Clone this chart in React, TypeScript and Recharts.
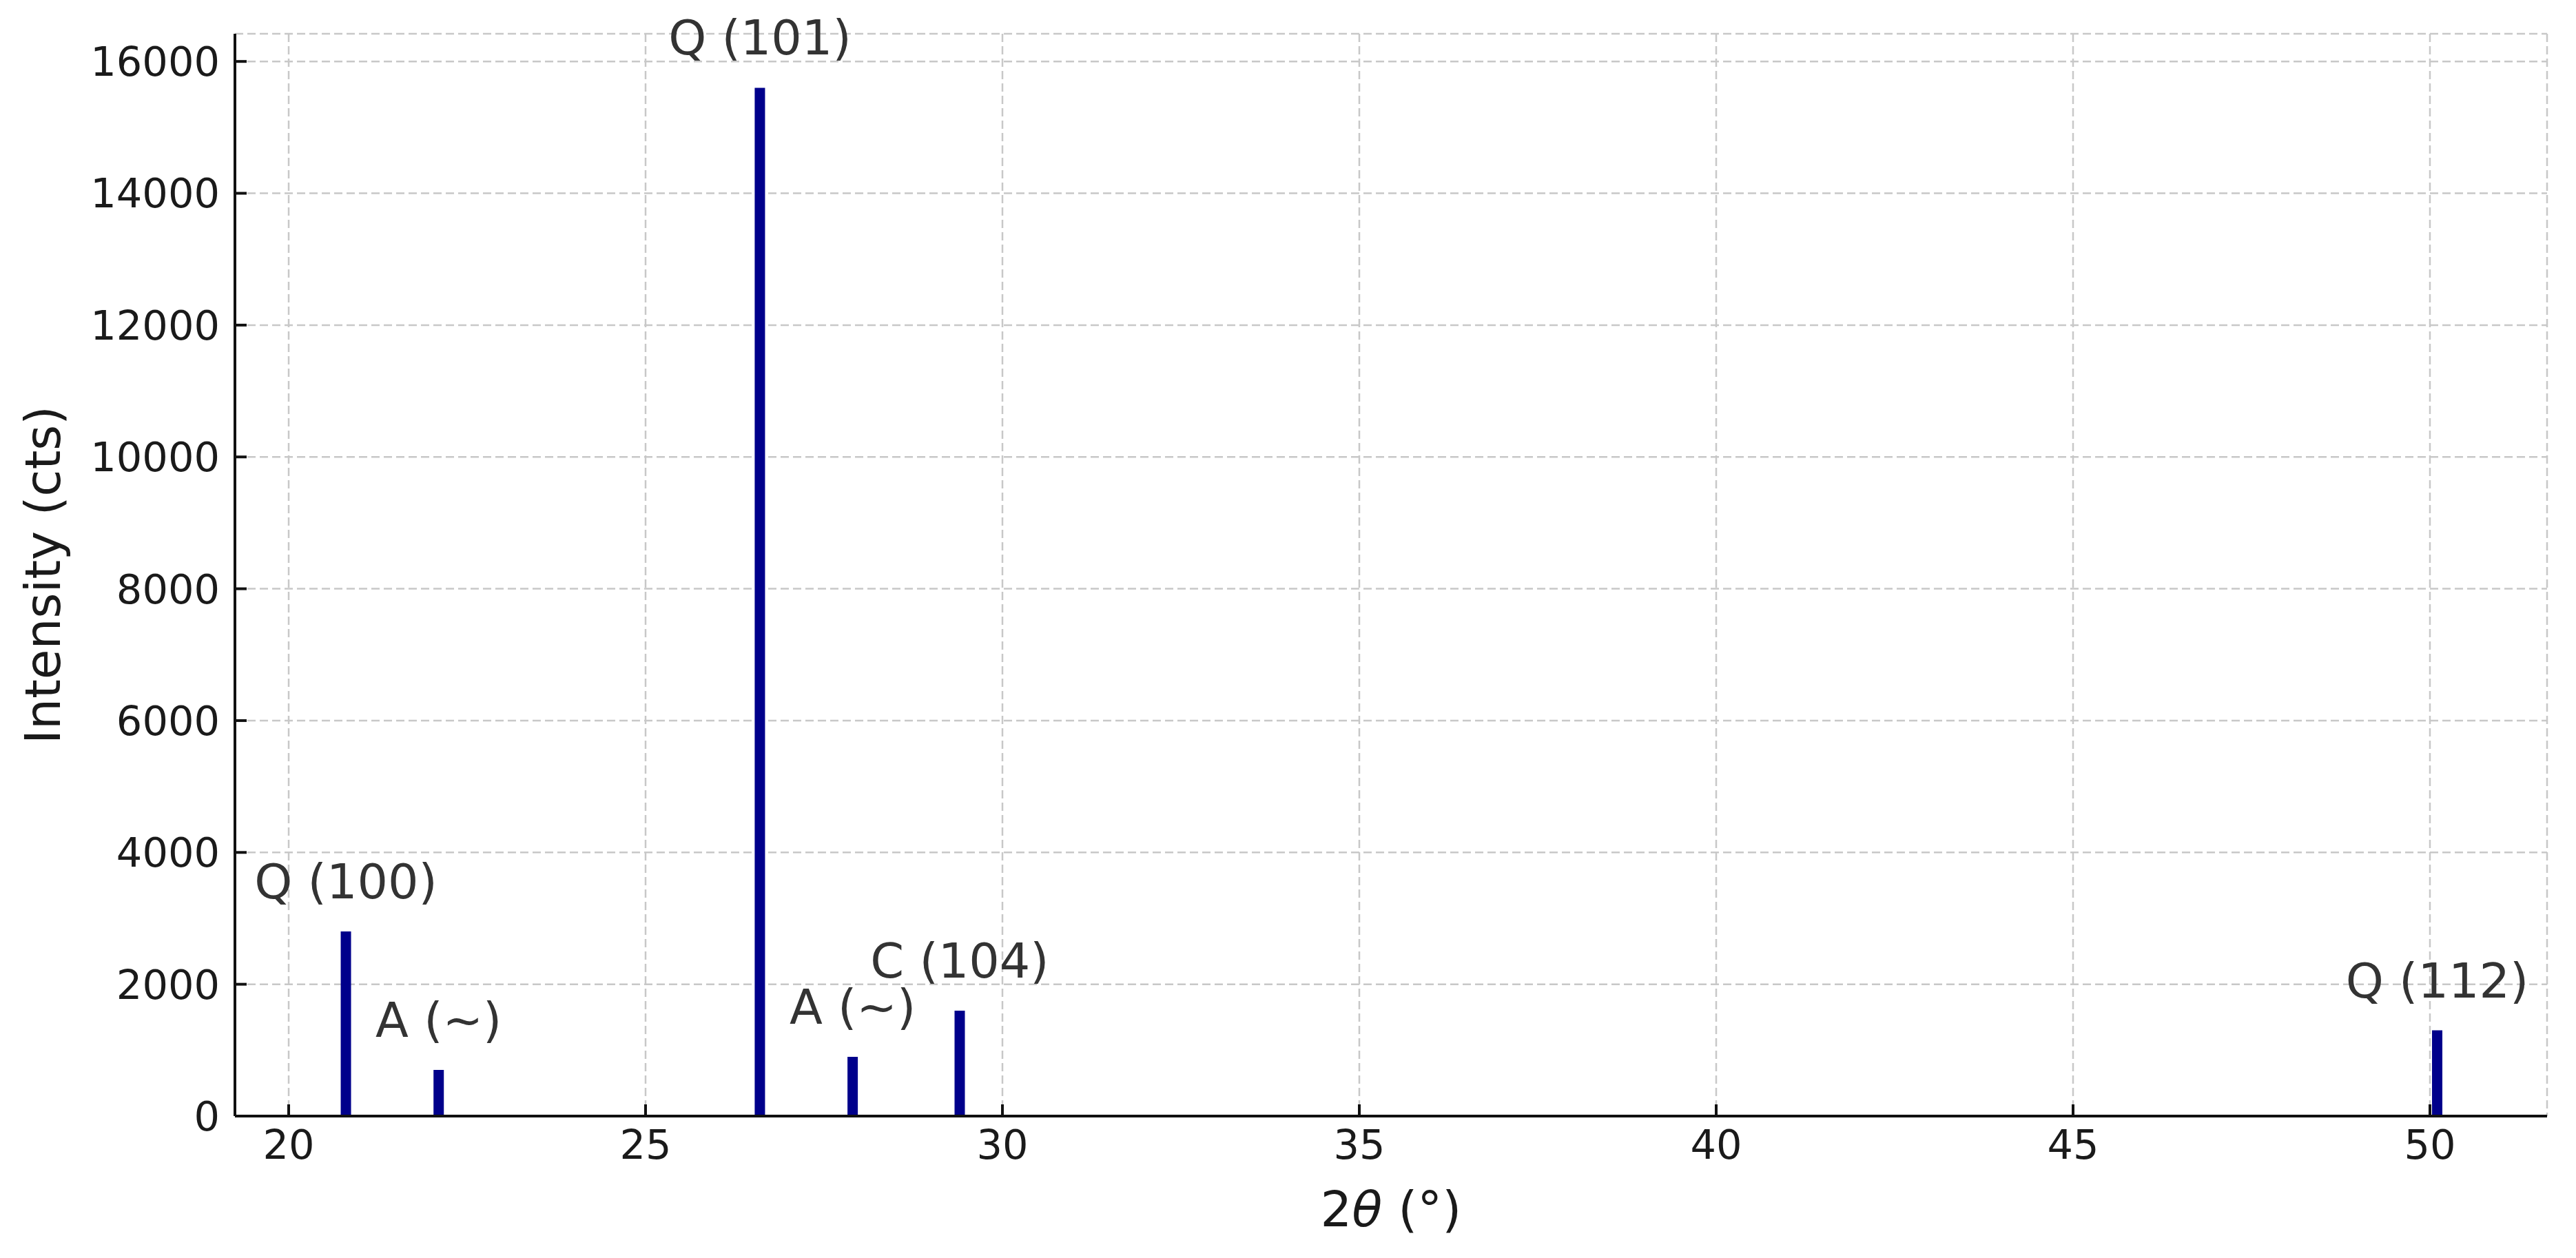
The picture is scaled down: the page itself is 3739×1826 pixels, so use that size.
import React from 'react';
import { BarChart, Bar, XAxis, YAxis, CartesianGrid, LabelList } from 'recharts';

// peak positions (2θ, degrees) and intensities (cts)
const twoTheta = [20.8, 22.1, 26.6, 27.9, 29.4, 50.1];
const intensity = [2800, 700, 15600, 900, 1600, 1300];
const peakLabels = ['Q (100)', 'A (~)', 'Q (101)', 'A (~)', 'C (104)', 'Q (112)'];

const xTicks = [20, 25, 30, 35, 40, 45, 50];
const yTicks = [0, 2000, 4000, 6000, 8000, 10000, 12000, 14000, 16000];

const FONT = '"DejaVu Sans", sans-serif';

const data = twoTheta.map((t, i) => ({ x: t, y: intensity[i], label: peakLabels[i] }));

const PeakLabel = (props: any) => {
    const { x, y, width, index } = props;
    return (
        <text
            x={x + width / 2}
            y={y - 48}
            textAnchor="middle"
            fontFamily={FONT}
            fontSize={70}
            fill="#333333"
        >
            {peakLabels[index]}
        </text>
    );
};

const XLabel = (props: any) => {
    const { x, y, width } = props.viewBox;
    return (
        <text x={x + width / 2} y={y + 160} textAnchor="middle" fontFamily={FONT} fontSize={72} fill="#1a1a1a">
            2<tspan fontStyle="italic">θ</tspan> (°)
        </text>
    );
};

const YLabel = (props: any) => {
    const { y, height } = props.viewBox;
    const cx = 87;
    const cy = y + height / 2;
    return (
        <text
            x={cx}
            y={cy}
            textAnchor="middle"
            transform={`rotate(-90, ${cx}, ${cy})`}
            fontFamily={FONT}
            fontSize={71}
            fill="#1a1a1a"
        >
            Intensity (cts)
        </text>
    );
};

const axisLine = { stroke: '#111', strokeWidth: 4 };
const tickLine = { stroke: '#111', strokeWidth: 4 };

const App: React.FC = () => {
    return (
        <div style={{ position: 'absolute', left: 0, top: 0, background: '#fff' }}>
            <BarChart
                width={3739}
                height={1826}
                data={data}
                margin={{ top: 49, right: 42, bottom: 0, left: 0 }}
            >
                <CartesianGrid stroke="#c8c8c8" strokeWidth={2.5} strokeDasharray="12 6" />
                <XAxis
                    dataKey="x"
                    type="number"
                    domain={[19.247, 51.641]}
                    allowDataOverflow
                    ticks={xTicks}
                    height={206}
                    axisLine={axisLine}
                    tickLine={tickLine}
                    tickSize={-17}
                    tickMargin={37}
                    tick={{ fontSize: 59, fontFamily: FONT, fill: '#1a1a1a' }}
                    label={<XLabel />}
                />
                <YAxis
                    type="number"
                    domain={[0, 16420]}
                    allowDataOverflow
                    ticks={yTicks}
                    width={341}
                    axisLine={axisLine}
                    tickLine={tickLine}
                    tickSize={-17}
                    tickMargin={39}
                    tick={{ fontSize: 59, fontFamily: FONT, fill: '#1a1a1a' }}
                    label={<YLabel />}
                />
                <Bar dataKey="y" fill="#00008b" barSize={15} isAnimationActive={false}>
                    <LabelList dataKey="label" content={<PeakLabel />} />
                </Bar>
            </BarChart>
        </div>
    );
};

export default App;
